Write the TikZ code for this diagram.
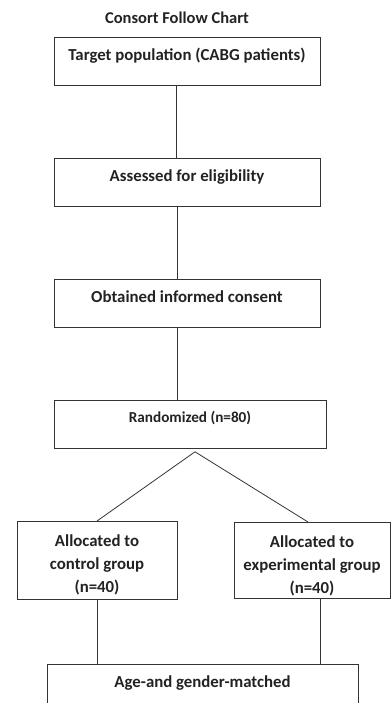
\documentclass[tikz,border=0pt]{standalone}
\usepackage{fontspec}
\setmainfont{Carlito}
\definecolor{ink}{HTML}{222222}
\definecolor{edge}{HTML}{333333}
\begin{document}
\begin{tikzpicture}[x=1pt,y=-1pt,
  box/.style={draw=edge,line width=0.8pt,inner sep=0pt,align=center,text=ink,anchor=north,font=\bfseries\fontsize{16.8}{23}\selectfont},
  conn/.style={draw=edge,line width=0.8pt}]
\useasboundingbox (0,0) rectangle (391,703);
\clip (0,0) rectangle (391,703);
\node[text=ink,inner sep=0pt,anchor=base,font=\bfseries\fontsize{16.5}{20}\selectfont] (title) at (177,24) {Consort Follow Chart};
\node[box,minimum width=266pt,text height=23pt,text depth=25pt] (b1) at (187,37) {Target population (CABG patients)};
\node[box,minimum width=266pt,text height=23pt,text depth=25pt] (b2) at (187,158) {Assessed for eligibility};
\node[box,minimum width=266pt,text height=23pt,text depth=25pt] (b3) at (187,279) {Obtained informed consent};
\node[box,minimum width=272pt,text height=22pt,text depth=26pt,font=\bfseries\fontsize{15.2}{23}\selectfont] (b4) at (190,400) {Randomized (n=80)};
\node[box,minimum width=160pt,text height=71pt,text depth=7pt] (ctl) at (97,521) {Allocated to\\control group\\(n=40)};
\node[box,minimum width=156pt,text height=71pt,text depth=5pt] (exp) at (312,522) {Allocated to\\experimental group\\(n=40)};
\node[box,minimum width=311pt,text height=23pt,text depth=25pt] (b5) at (202.5,664) {Age-and gender-matched};
\draw[conn] ([xshift=-11pt]b1.south) -- ([xshift=-11pt]b1.south |- b2.north);
\draw[conn] ([xshift=-10pt]b2.south) -- ([xshift=-10pt]b2.south |- b3.north);
\draw[conn] ([xshift=-10pt]b3.south) -- ([xshift=-10pt]b3.south |- b4.north);
\coordinate (apex) at ([xshift=5pt,yshift=-3pt]b4.south);
\draw[conn] (ctl.north) -- (apex) -- ([xshift=-4pt]exp.north);
\draw[conn] (ctl.south) -- (ctl.south |- b5.north);
\draw[conn] ([xshift=8pt]exp.south) -- ([xshift=8pt]exp.south |- b5.north);
\end{tikzpicture}
\end{document}
